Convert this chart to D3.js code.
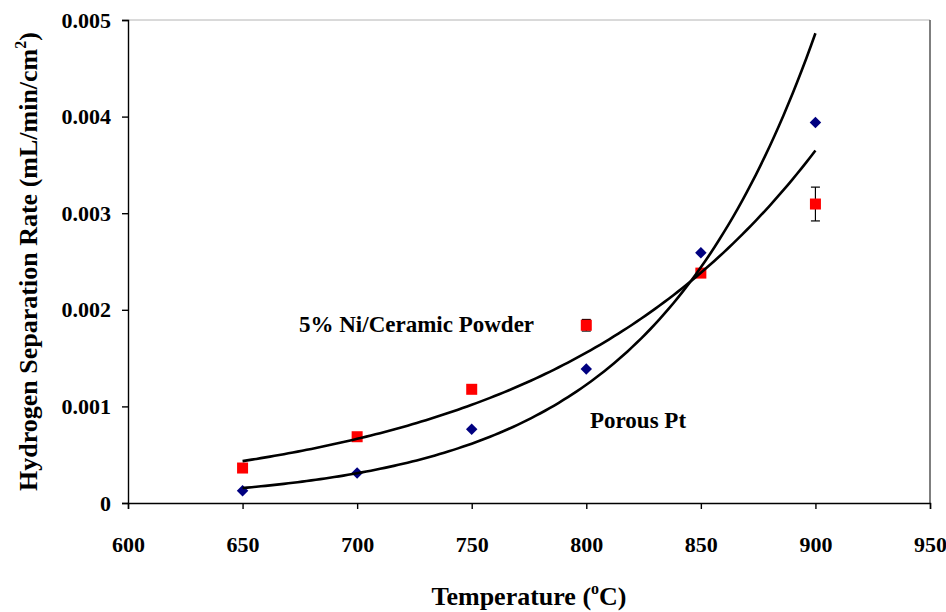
<!DOCTYPE html>
<html>
<head>
<meta charset="utf-8">
<script src="https://cdn.jsdelivr.net/npm/d3@7"></script>
<style>
  html, body { margin: 0; padding: 0; background: #fff; }
  svg { display: block; }
  text { font-family: "Liberation Serif", "Times New Roman", serif; font-weight: bold; fill: #000; }
</style>
</head>
<body>
<svg id="chart" width="946" height="612"></svg>
<script>
// Temperatures (°C) at which separation rate was measured
const temperatures = [650, 700, 750, 800, 850, 900];
// Porous Pt membrane (mL/min/cm²)
const porousPt = [0.000127, 0.00031, 0.000763, 0.001387, 0.00259, 0.00394];
// 5% Ni/Ceramic Powder membrane (mL/min/cm²) and its standard errors
const niCeramic = [0.000362, 0.000686, 0.001177, 0.00184, 0.00238, 0.003095];
const niCeramicErr = [0, 0, 0, 0.00006, 0, 0.000175];
// Axis ticks
const xTicks = [600, 650, 700, 750, 800, 850, 900, 950];
const yTicks = [0, 0.001, 0.002, 0.003, 0.004, 0.005];

const svg = d3.select("#chart");
const x = d3.scaleLinear().domain([600, 950]).range([128, 930]);
const y = d3.scaleLinear().domain([0, 0.005]).range([503, 20]);

// Plot-area frame (top and right)
svg.append("line").attr("x1", x(600)).attr("x2", x(950)).attr("y1", y(0.005)).attr("y2", y(0.005))
  .attr("stroke", "#b4b4b4").attr("stroke-width", 1);
svg.append("line").attr("x1", x(950)).attr("x2", x(950)).attr("y1", y(0.005)).attr("y2", y(0))
  .attr("stroke", "#555").attr("stroke-width", 1.5);

// Axes
const yAxis = d3.axisLeft(y).tickValues(yTicks).tickSize(6).tickPadding(11)
  .tickFormat(d => d === 0 ? "0" : d3.format(".3f")(d));
const xAxis = d3.axisBottom(x).tickValues(xTicks).tickSize(6).tickPadding(27)
  .tickFormat(d3.format("d"));

const gy = svg.append("g").attr("transform", `translate(${x(600)},0)`).call(yAxis);
const gx = svg.append("g").attr("transform", `translate(0,${y(0)})`).call(xAxis);
[gx, gy].forEach(g => {
  g.select(".domain").attr("stroke", "#000").attr("stroke-width", 1.4);
  g.selectAll(".tick line").attr("stroke", "#000").attr("stroke-width", 1.4);
  g.selectAll(".tick text").attr("font-size", 22).attr("font-family", "Liberation Serif, serif")
    .attr("font-weight", "bold").attr("fill", "#000");
});

// Exponential least-squares trendline (fit on ln y), like a spreadsheet trendline
function expFit(xs, ys) {
  const ly = ys.map(Math.log);
  const mx = d3.mean(xs), my = d3.mean(ly);
  let sxy = 0, sxx = 0;
  xs.forEach((xi, i) => { sxy += (xi - mx) * (ly[i] - my); sxx += (xi - mx) * (xi - mx); });
  const b = sxy / sxx;
  const a = Math.exp(my - b * mx);
  return t => a * Math.exp(b * t);
}

const line = d3.line().x(d => x(d[0])).y(d => y(d[1]));
const xmin = d3.min(temperatures), xmax = d3.max(temperatures);
const steps = d3.range(xmin, xmax + 0.001, 2);

// Ni/Ceramic error bars
const errG = svg.append("g");
temperatures.forEach((t, i) => {
  const e = niCeramicErr[i];
  if (!e) return;
  const cx = x(t);
  errG.append("line").attr("x1", cx).attr("x2", cx).attr("y1", y(niCeramic[i] - e)).attr("y2", y(niCeramic[i] + e))
    .attr("stroke", "#000").attr("stroke-width", 1.2);
  [niCeramic[i] - e, niCeramic[i] + e].forEach(v => {
    errG.append("line").attr("x1", cx - 4.5).attr("x2", cx + 4.5).attr("y1", y(v)).attr("y2", y(v))
      .attr("stroke", "#000").attr("stroke-width", 1.2);
  });
});

// Ni/Ceramic markers: red squares
svg.append("g").selectAll("rect").data(temperatures).join("rect")
  .attr("x", d => x(d) - 5.5).attr("y", (d, i) => y(niCeramic[i]) - 5.5)
  .attr("width", 11).attr("height", 11).attr("fill", "#ff0000");

// Porous Pt markers: navy diamonds
const diamond = d3.symbol().type(d3.symbolDiamond2).size(84);
svg.append("g").selectAll("path").data(temperatures).join("path")
  .attr("d", diamond)
  .attr("transform", (d, i) => `translate(${x(d)},${y(porousPt[i])})`)
  .attr("fill", "#000080");

// Trendlines
[porousPt, niCeramic].forEach(series => {
  const f = expFit(temperatures, series);
  svg.append("path").datum(steps.map(t => [t, f(t)]))
    .attr("d", line).attr("fill", "none").attr("stroke", "#000").attr("stroke-width", 2.6);
});

// Series labels
svg.append("text").attr("x", 299).attr("y", 332).attr("font-size", 23).text("5% Ni/Ceramic Powder");
svg.append("text").attr("x", 590).attr("y", 428).attr("font-size", 23).text("Porous Pt");

// Axis titles
const xt = svg.append("text").attr("x", (x(600) + x(950)) / 2).attr("y", 605)
  .attr("text-anchor", "middle").attr("font-size", 26);
xt.append("tspan").text("Temperature (");
xt.append("tspan").attr("font-size", 16).attr("dy", -11).text("o");
xt.append("tspan").attr("dy", 11).text("C)");

const yt = svg.append("text")
  .attr("transform", `translate(37,${(y(0) + y(0.005)) / 2}) rotate(-90)`)
  .attr("text-anchor", "middle").attr("font-size", 26);
yt.append("tspan").text("Hydrogen Separation Rate (mL/min/cm");
yt.append("tspan").attr("font-size", 16).attr("dy", -11).text("2");
yt.append("tspan").attr("dy", 11).text(")");
</script>
</body>
</html>
